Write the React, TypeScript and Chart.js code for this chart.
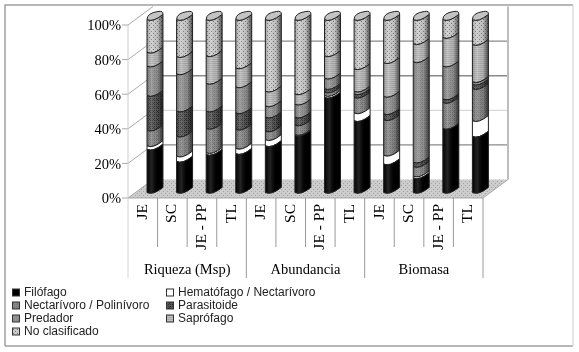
import React, { useEffect, useRef } from "react";
import { Chart, registerables } from "chart.js";

Chart.register(...registerables);

const categories = ["JE", "SC", "JE - PP", "TL", "JE", "SC", "JE - PP", "TL", "JE", "SC", "JE - PP", "TL"];
const groupNames = ["Riqueza (Msp)", "Abundancia", "Biomasa"];
const groupSizes = [4, 4, 4];

const filofago = [25, 18, 22, 22.5, 27, 33, 55, 41.5, 16.5, 8.5, 37, 32.5];
const hematofago = [2, 3, 1, 3, 3.5, 0.5, 1, 4.5, 5, 1, 0, 9];
const nectarivoro = [9, 11.5, 14, 11, 5, 5.5, 2, 9, 20.5, 5.5, 15, 18.5];
const parasitoide = [20, 14.5, 10, 9.5, 8, 4.5, 2, 2, 3.5, 2.5, 2, 2.5];
const predador = [17, 21.5, 16, 15, 6.5, 7.5, 6, 1.5, 10, 58, 19, 1.5];
const saprofago = [8, 10, 16, 11, 8.5, 6, 13, 13, 19.5, 10.5, 16.5, 21.5];
const noClasificado = [19, 21.5, 21, 28, 41.5, 43, 21, 28.5, 25, 14, 10.5, 14.5];

const seriesNames = ["Filófago", "Hematófago / Nectarívoro", "Nectarívoro / Polinívoro", "Parasitoide", "Predador", "Saprófago", "No clasificado"];
const seriesValues = [filofago, hematofago, nectarivoro, parasitoide, predador, saprofago, noClasificado];

// base colour, second colour, pattern kind
const seriesStyles: [string, string, string][] = [
  ["#000000", "#000000", "solid"],
  ["#ffffff", "#ffffff", "solid"],
  ["#8a8a8a", "#707070", "dither"],
  ["#565656", "#303030", "dither"],
  ["#949494", "#808080", "dither"],
  ["#c0c0c0", "#aaaaaa", "stripes"],
  ["#cccccc", "#777777", "dots"],
];

const FRAME = { left: 5, top: 5, right: 573, bottom: 346 };
const DEPTH_X = 25;
const DEPTH_Y = 18.5;
const BAR_DX = 12.2;
const BAR_DY = -8;
const SERIF = "'Liberation Serif', serif";
const SANS = "'Liberation Sans', sans-serif";

function makePattern(ctx: CanvasRenderingContext2D, a: string, b: string, kind: string) {
  if (kind === "solid") return a;
  const c = document.createElement("canvas");
  c.width = 4;
  c.height = 4;
  const p = c.getContext("2d")!;
  p.fillStyle = a;
  p.fillRect(0, 0, 4, 4);
  p.fillStyle = b;
  if (kind === "dither") {
    p.fillRect(0, 0, 1, 1);
    p.fillRect(2, 2, 1, 1);
    p.fillRect(2, 0, 1, 1);
    p.fillRect(0, 2, 1, 1);
    p.fillRect(1, 3, 1, 1);
  } else if (kind === "stripes") {
    p.fillRect(0, 1, 4, 1);
    p.fillRect(0, 3, 4, 1);
  } else {
    p.fillRect(1, 1, 1, 1);
    p.fillRect(3, 3, 1, 1);
  }
  return ctx.createPattern(c, "repeat")!;
}

const cylinderPlugin = {
  id: "cylinder",
  beforeDatasetDraw(chart: any, args: any) {
    const ctx: CanvasRenderingContext2D = chart.ctx;
    const style = seriesStyles[args.index];
    const fill = makePattern(ctx, style[0], style[1], style[2]);
    const isTop = args.index === seriesValues.length - 1;
    args.meta.data.forEach((el: any) => {
      const { x, y, base, width } = el.getProps(["x", "y", "base", "width"], true);
      if (Math.abs(base - y) < 0.2) return;
      const cx = x + BAR_DX;
      const l = cx - width / 2;
      const r = cx + width / 2;
      const top = y + BAR_DY;
      const bot = base + BAR_DY;
      const edge = (yy: number, dir: 1 | -1) => {
        if (dir === 1) {
          ctx.lineTo(l, yy + 2.6);
          ctx.quadraticCurveTo(cx - 2, yy + 5.5, r, yy - 2.6);
        } else {
          ctx.lineTo(r, yy - 2.6);
          ctx.quadraticCurveTo(cx - 2, yy + 5.5, l, yy + 2.6);
        }
      };
      ctx.save();
      ctx.beginPath();
      ctx.moveTo(l, top + 2.6);
      edge(top, 1);
      edge(bot, -1);
      ctx.closePath();
      ctx.fillStyle = fill;
      ctx.fill();
      const g = ctx.createLinearGradient(l, 0, r, 0);
      g.addColorStop(0, "rgba(0,0,0,0.18)");
      g.addColorStop(0.3, "rgba(255,255,255,0.14)");
      g.addColorStop(0.65, "rgba(0,0,0,0.05)");
      g.addColorStop(1, "rgba(0,0,0,0.6)");
      if (args.index !== 1) {
        ctx.fillStyle = g;
        ctx.fill();
      }
      ctx.strokeStyle = "#222222";
      ctx.lineWidth = 1;
      ctx.stroke();
      if (isTop) {
        ctx.beginPath();
        ctx.moveTo(l, top + 2.6);
        ctx.quadraticCurveTo(cx - 2, top + 5.5, r, top - 2.6);
        ctx.quadraticCurveTo(r + 0.5, top - 6.5, cx + 3, top - 5.5);
        ctx.quadraticCurveTo(l, top - 4, l, top + 2.6);
        ctx.closePath();
        ctx.fillStyle = "#c4c4c4";
        ctx.fill();
        ctx.stroke();
      }
      ctx.restore();
    });
    return false;
  },
};

const wallsPlugin = {
  id: "walls",
  beforeDatasetsDraw(chart: any) {
    const ctx: CanvasRenderingContext2D = chart.ctx;
    const { x: xs, y: ys } = chart.scales;
    const left = xs.left;
    const right = xs.right;
    const y0 = ys.getPixelForValue(0);
    ctx.save();
    // frame
    ctx.strokeStyle = "#a0a0a0";
    ctx.lineWidth = 1.5;
    ctx.beginPath();
    ctx.moveTo(FRAME.left, FRAME.bottom);
    ctx.lineTo(FRAME.left, FRAME.top);
    ctx.lineTo(FRAME.right, FRAME.top);
    ctx.moveTo(FRAME.left, FRAME.bottom);
    ctx.lineTo(FRAME.right, FRAME.bottom);
    ctx.stroke();
    ctx.strokeStyle = "#dddddd";
    ctx.beginPath();
    ctx.moveTo(FRAME.right, FRAME.top);
    ctx.lineTo(FRAME.right, FRAME.bottom);
    ctx.stroke();
    // floor
    ctx.beginPath();
    ctx.moveTo(left, y0);
    ctx.lineTo(left + DEPTH_X, y0 - DEPTH_Y);
    ctx.lineTo(right + DEPTH_X, y0 - DEPTH_Y);
    ctx.lineTo(right, y0);
    ctx.closePath();
    ctx.fillStyle = makePattern(ctx, "#cccccc", "#a4a4a4", "dots");
    ctx.fill();
    // gridlines on the walls
    ys.ticks.forEach((t: any) => {
      const py = ys.getPixelForValue(t.value);
      ctx.lineWidth = 1;
      ctx.strokeStyle = "#a8a8a8";
      ctx.beginPath();
      ctx.moveTo(left - 6, py);
      ctx.lineTo(left, py);
      ctx.lineTo(left + DEPTH_X, py - DEPTH_Y);
      ctx.stroke();
      if (t.value > 0 && t.value < 100) {
        ctx.strokeStyle = t.value === 40 ? "#cfcfcf" : "#8a8a8a";
        ctx.lineWidth = t.value === 40 ? 1 : 1.4;
        ctx.beginPath();
        ctx.moveTo(left + DEPTH_X, py - DEPTH_Y);
        ctx.lineTo(right + DEPTH_X, py - DEPTH_Y);
        ctx.stroke();
      }
    });
    // wall edges
    const yTop = ys.getPixelForValue(100);
    ctx.strokeStyle = "#cccccc";
    ctx.lineWidth = 1;
    ctx.beginPath();
    ctx.moveTo(left, yTop);
    ctx.lineTo(left, y0);
    ctx.stroke();
    ctx.strokeStyle = "#bdbdbd";
    ctx.lineWidth = 2;
    ctx.beginPath();
    ctx.moveTo(right + DEPTH_X, yTop - DEPTH_Y);
    ctx.lineTo(right + DEPTH_X, y0 - DEPTH_Y);
    ctx.stroke();
    ctx.lineWidth = 1;
    ctx.strokeStyle = "#a8a8a8";
    ctx.beginPath();
    ctx.moveTo(left, y0);
    ctx.lineTo(right, y0);
    ctx.lineTo(right + DEPTH_X, y0 - DEPTH_Y);
    ctx.stroke();
    // category separators and group labels
    const step = xs.getPixelForValue(1) - xs.getPixelForValue(0);
    const edgeAt = (i: number) => xs.getPixelForValue(i) - step / 2;
    let idx = 0;
    const groupEdges = new Set<number>([0]);
    ctx.fillStyle = "#000000";
    ctx.font = `14.5px ${SERIF}`;
    ctx.textAlign = "center";
    ctx.textBaseline = "middle";
    groupSizes.forEach((n, gi) => {
      ctx.fillText(groupNames[gi], edgeAt(idx) + (n * step) / 2, 270.5);
      idx += n;
      groupEdges.add(idx);
    });
    for (let i = 0; i <= categories.length; i++) {
      const px = edgeAt(i);
      const isGroup = groupEdges.has(i);
      ctx.strokeStyle = i === 0 ? "#d4d4d4" : "#9a9a9a";
      ctx.lineWidth = 1;
      ctx.beginPath();
      ctx.moveTo(px, y0);
      ctx.lineTo(px, isGroup ? 278 : 247);
      ctx.stroke();
    }
    ctx.restore();
  },
  afterDraw(chart: any) {
    // legend in two columns, read from the datasets
    const ctx: CanvasRenderingContext2D = chart.ctx;
    const names = chart.data.datasets.map((d: any) => d.label);
    ctx.save();
    ctx.font = `12px ${SANS}`;
    ctx.textBaseline = "middle";
    ctx.textAlign = "left";
    const rows = [293, 306, 319, 332];
    const order: [number, number, number][] = [
      [0, 0, 0], [1, 1, 0], [2, 0, 1], [3, 1, 1], [4, 0, 2], [5, 1, 2], [6, 0, 3],
    ];
    order.forEach(([s, col, row]) => {
      const bx = col === 0 ? 12.5 : 166.5;
      const tx = col === 0 ? 24 : 178;
      const st = seriesStyles[s];
      ctx.fillStyle = makePattern(ctx, st[0], st[1], st[2]);
      ctx.fillRect(bx, rows[row] - 4, 7, 7);
      ctx.strokeStyle = "#333333";
      ctx.lineWidth = 1;
      ctx.strokeRect(bx, rows[row] - 4, 7, 7);
      ctx.fillStyle = "#222222";
      ctx.fillText(names[s], tx, rows[row]);
    });
    ctx.restore();
  },
};

export default function App() {
  const ref = useRef<HTMLCanvasElement>(null);
  useEffect(() => {
    const chart = new Chart(ref.current!, {
      type: "bar",
      data: {
        labels: categories,
        datasets: seriesNames.map((name, i) => ({
          label: name,
          data: seriesValues[i],
          backgroundColor: seriesStyles[i][0],
          barPercentage: 1,
          categoryPercentage: 0.54,
        })),
      },
      options: {
        animation: false,
        responsive: false,
        layout: { padding: { top: 25, right: 96, left: 0, bottom: 0 } },
        plugins: { legend: { display: false }, tooltip: { enabled: false } },
        scales: {
          x: {
            stacked: true,
            grid: { display: false },
            border: { display: false },
            afterFit: (s: any) => { s.height = 352 - 198 - 0; },
            ticks: {
              autoSkip: false,
              minRotation: 90,
              maxRotation: 90,
              padding: -2,
              color: "#000000",
              font: { family: SERIF, size: 15.5 },
            },
          },
          y: {
            stacked: true,
            min: 0,
            max: 100,
            grid: { display: false },
            border: { display: false },
            afterFit: (s: any) => { s.width = 128; },
            ticks: {
              stepSize: 20,
              padding: -1,
              labelOffset: 1.5,
              color: "#000000",
              font: { family: SERIF, size: 14.5 },
              callback: (v: any) => `${v}%`,
            },
          },
        },
      },
      plugins: [wallsPlugin, cylinderPlugin],
    } as any);
    return () => chart.destroy();
  }, []);
  return (
    <div style={{ position: "fixed", left: 0, top: 0, width: 579, height: 352, background: "#fff" }}>
      <canvas ref={ref} width={579} height={352} style={{ display: "block" }} />
    </div>
  );
}
